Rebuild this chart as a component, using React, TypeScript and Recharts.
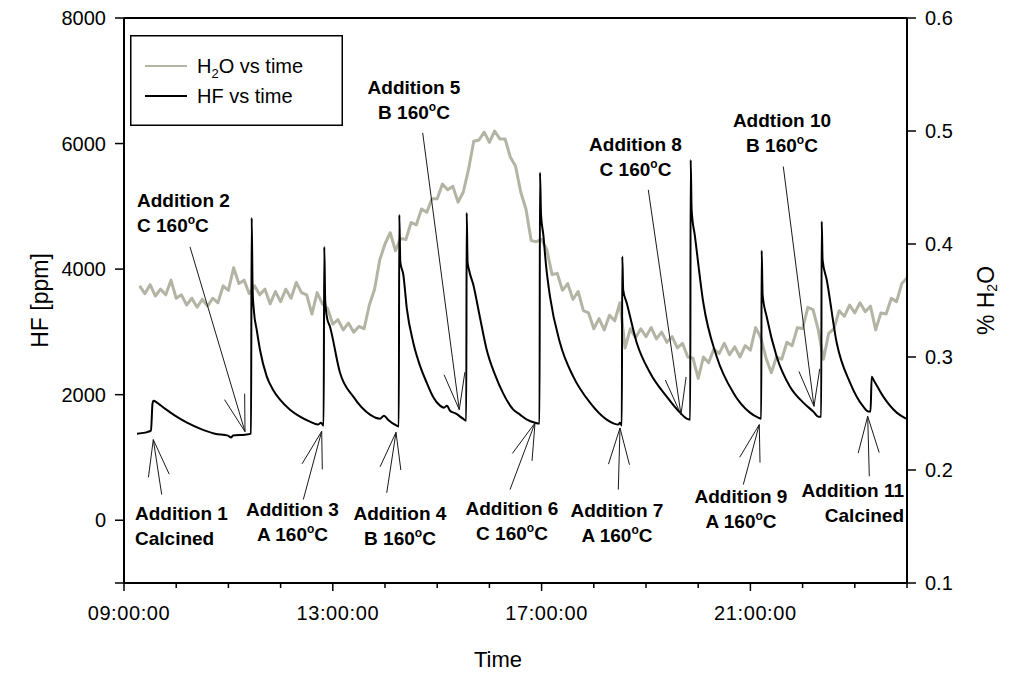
import React from "react";
import {
  LineChart,
  Line,
  XAxis,
  YAxis,
  ReferenceLine,
  ReferenceDot,
  Legend,
} from "recharts";

const FONT = "'Liberation Sans', Arial, Helvetica, sans-serif";
const H2O_COLOR = "#b4b4a5";

// HF reading [hour of day, ppm]
const hfTrace: [number, number][] = [
  [9.249, 1379], [9.402, 1395], [9.517, 1427], [9.546, 1857], [9.565, 1905],
  [9.632, 1873], [9.785, 1777], [9.977, 1666], [10.207, 1554], [10.456, 1459],
  [10.743, 1379], [10.992, 1348], [11.05, 1316], [11.088, 1348], [11.318, 1363],
  [11.433, 1379], [11.446, 4817], [11.464, 3671], [11.49, 3321], [11.542, 3035],
  [11.605, 2716], [11.734, 2291], [11.854, 2080], [11.989, 1920], [12.18, 1761],
  [12.372, 1650], [12.563, 1570], [12.716, 1523], [12.774, 1554], [12.824, 1507],
  [12.837, 4355], [12.854, 3512], [12.889, 3226], [12.946, 3082], [13.138, 2350],
  [13.393, 1968], [13.713, 1682], [13.904, 1618], [13.981, 1666], [14.057, 1602],
  [14.224, 1507], [14.264, 1491], [14.274, 4865], [14.293, 4117], [14.351, 3910],
  [14.421, 3353], [14.542, 2828], [14.67, 2462], [14.799, 2191], [14.92, 1968],
  [15.054, 1825], [15.13, 1793], [15.188, 1825], [15.245, 1745], [15.36, 1698],
  [15.494, 1618], [15.556, 1586], [15.565, 4897], [15.582, 4117], [15.609, 3989],
  [15.692, 3751], [15.82, 3226], [15.948, 2716], [16.107, 2318], [16.266, 2016],
  [16.458, 1761], [16.586, 1682], [16.72, 1602], [16.874, 1554], [16.96, 1539],
  [16.969, 5538], [16.989, 4865], [17.033, 4546], [17.084, 4069], [17.161, 3560],
  [17.352, 2828], [17.607, 2287], [17.927, 1873], [18.247, 1602], [18.387, 1539],
  [18.469, 1523], [18.502, 1554], [18.536, 1507], [18.546, 4201], [18.563, 3671],
  [18.63, 3464], [18.822, 2828], [19.077, 2350], [19.397, 1968], [19.651, 1714],
  [19.78, 1618], [19.847, 1602], [19.856, 5740], [19.874, 4944], [19.939, 4515],
  [20.098, 3464], [20.355, 2605], [20.672, 2032], [20.992, 1714], [21.151, 1634],
  [21.207, 1618], [21.216, 4297], [21.234, 3592], [21.312, 3241], [21.504, 2605],
  [21.759, 2127], [22.013, 1873], [22.205, 1730], [22.301, 1650], [22.356, 1650],
  [22.366, 4758], [22.383, 4149], [22.462, 3830], [22.653, 2828], [22.908, 2191],
  [23.163, 1809], [23.259, 1730], [23.301, 1730], [23.324, 2287], [23.368, 2223],
  [23.546, 1968], [23.803, 1714], [23.981, 1618],
];

// % H2O, one reading every 0.1 h from 09:18 to 24:00
const h2oFirstHour = 9.3;
const h2oPct = [
  0.363, 0.356, 0.364, 0.354, 0.36, 0.355, 0.368, 0.352, 0.355, 0.346,
  0.352, 0.344, 0.351, 0.345, 0.352, 0.348, 0.363, 0.359, 0.379, 0.365,
  0.368, 0.356, 0.363, 0.355, 0.36, 0.347, 0.358, 0.349, 0.36, 0.352,
  0.366, 0.357, 0.355, 0.338, 0.357, 0.347, 0.343, 0.329, 0.333, 0.324,
  0.33, 0.322, 0.327, 0.325, 0.346, 0.36, 0.386, 0.4, 0.41, 0.394,
  0.405, 0.404, 0.419, 0.417, 0.431, 0.428, 0.44, 0.44, 0.453, 0.448,
  0.451, 0.437, 0.446, 0.466, 0.491, 0.492, 0.499, 0.49, 0.5, 0.493,
  0.493, 0.477, 0.469, 0.446, 0.431, 0.403, 0.402, 0.404, 0.395, 0.373,
  0.374, 0.359, 0.365, 0.351, 0.358, 0.341, 0.339, 0.325, 0.334, 0.324,
  0.337, 0.332, 0.348, 0.308, 0.325, 0.317, 0.325, 0.318, 0.326, 0.316,
  0.322, 0.313, 0.318, 0.308, 0.312, 0.3, 0.299, 0.281, 0.3, 0.295,
  0.307, 0.303, 0.312, 0.302, 0.309, 0.3, 0.31, 0.306, 0.326, 0.317,
  0.299, 0.286, 0.3, 0.298, 0.313, 0.31, 0.326, 0.325, 0.344, 0.342,
  0.324, 0.298, 0.321, 0.325, 0.341, 0.336, 0.346, 0.339, 0.348, 0.34,
  0.345, 0.324, 0.339, 0.338, 0.352, 0.349, 0.365, 0.37,
];

const timeTicks = [9, 10, 11, 12, 13, 14, 15, 16, 17, 18, 19, 20, 21, 22, 23, 24];
const labelledHours = [9, 13, 17, 21];
const hfTicks = [-1000, 0, 2000, 4000, 6000, 8000];
const h2oTicks = [0.1, 0.2, 0.3, 0.4, 0.5, 0.6];

type Addition = {
  title: string;
  sample: string; // "" means calcined
  tail: [number, number];
  tip: [number, number];
  at: [number, number];
  anchor: "start" | "middle" | "end";
};

// arrow tail/tip and label anchor in (hour, ppm)
const additions: Addition[] = [
  { title: "Addition 1", sample: "", tail: [9.722, 409], tip: [9.561, 1284], at: [9.211, 122], anchor: "start" },
  { title: "Addition 2", sample: "C", tail: [10.264, 4355], tip: [11.318, 1411], at: [9.249, 5103], anchor: "start" },
  { title: "Addition 3", sample: "A", tail: [12.435, 329], tip: [12.787, 1416], at: [12.228, 186], anchor: "middle" },
  { title: "Addition 4", sample: "B", tail: [14.033, 436], tip: [14.211, 1400], at: [14.287, 122], anchor: "middle" },
  { title: "Addition 5", sample: "B", tail: [14.722, 6170], tip: [15.423, 1761], at: [14.556, 6902], anchor: "middle" },
  { title: "Addition 6", sample: "C", tail: [16.395, 488], tip: [16.874, 1550], at: [16.433, 202], anchor: "middle" },
  { title: "Addition 7", sample: "A", tail: [18.469, 488], tip: [18.502, 1470], at: [18.444, 170], anchor: "middle" },
  { title: "Addition 8", sample: "C", tail: [19.044, 5263], tip: [19.67, 1682], at: [18.799, 5995], anchor: "middle" },
  { title: "Addition 9", sample: "A", tail: [20.864, 568], tip: [21.17, 1523], at: [20.82, 393], anchor: "middle" },
  { title: "Addtion 10", sample: "B", tail: [21.63, 5634], tip: [22.218, 1814], at: [21.605, 6377], anchor: "middle" },
  { title: "Addition 11", sample: "", tail: [23.278, 700], tip: [23.247, 1655], at: [23.943, 488], anchor: "end" },
];

const hfData = hfTrace.map(([t, hf]) => ({ t, hf }));
const h2oData = h2oPct.map((h2o, i) => ({ t: +(h2oFirstHour + i * 0.1).toFixed(2), h2o }));

const pad = (n: number) => (n < 10 ? "0" + n : String(n));

const TimeTick = (p: any) => {
  const { x, y, payload } = p;
  const major = labelledHours.includes(payload.value);
  return (
    <g>
      <line x1={x} x2={x} y1={y} y2={y + (major ? 8 : 5)} stroke="#000" strokeWidth={1.5} />
      {major && (
        <text x={x + 5} y={y + 37} textAnchor="middle" fontFamily={FONT} fontSize={20} letterSpacing={0.6} fill="#000">
          {pad(payload.value)}:00:00
        </text>
      )}
    </g>
  );
};

const ArrowShape = (p: any) => {
  const { x1, y1, x2, y2 } = p;
  const back = Math.atan2(y1 - y2, x1 - x2);
  const len = 38;
  const spread = 0.28;
  const hx = (s: number) => x2 + len * Math.cos(back + s);
  const hy = (s: number) => y2 + len * Math.sin(back + s);
  return (
    <g stroke="#1a1a1a" strokeWidth={1} fill="none">
      <line x1={x1} y1={y1} x2={x2} y2={y2} />
      <line x1={x2} y1={y2} x2={hx(spread)} y2={hy(spread)} />
      <line x1={x2} y1={y2} x2={hx(-spread)} y2={hy(-spread)} />
    </g>
  );
};

const additionLabel = (a: Addition) => (p: any) => {
  const { cx, cy } = p;
  return (
    <text textAnchor={a.anchor} fontFamily={FONT} fontWeight="bold" fontSize={19} fill="#000">
      <tspan x={cx} y={cy + 7}>{a.title}</tspan>
      {a.sample === "" ? (
        <tspan x={cx} y={cy + 32}>Calcined</tspan>
      ) : (
        <>
          <tspan x={cx} y={cy + 32}>{a.sample} 160</tspan>
          <tspan dy={-8} fontSize={12}>o</tspan>
          <tspan dy={8}>C</tspan>
        </>
      )}
    </text>
  );
};

const LegendBox = () => (
  <svg width={213} height={91} style={{ display: "block" }}>
    <rect x={0.75} y={0.75} width={211.5} height={89.5} fill="#fff" stroke="#000" strokeWidth={1.5} />
    <line x1={15} x2={57} y1={31} y2={31} stroke={H2O_COLOR} strokeWidth={2} />
    <line x1={15} x2={57} y1={61} y2={61} stroke="#000" strokeWidth={2} />
    <text x={67} y={38} fontFamily={FONT} fontSize={20} fill="#000">
      H<tspan dy={5} fontSize={13}>2</tspan>
      <tspan dy={-5}>O vs time</tspan>
    </text>
    <text x={67} y={68} fontFamily={FONT} fontSize={20} fill="#000">
      HF vs time
    </text>
  </svg>
);

const hfTitle = (p: any) => {
  const vb = p.viewBox || { x: 0, y: 18, width: 124, height: 565 };
  const cx = vb.x + 40;
  const cy = vb.y + vb.height / 2;
  return (
    <text x={cx} y={cy} transform={`rotate(-90 ${cx} ${cy})`} textAnchor="middle" dominantBaseline="central" fontFamily={FONT} fontSize={23} fill="#000">
      HF [ppm]
    </text>
  );
};

const h2oTitle = (p: any) => {
  const vb = p.viewBox || { x: 907, y: 18, width: 106, height: 565 };
  const cx = vb.x + 79;
  const cy = vb.y + vb.height / 2;
  return (
    <text x={cx} y={cy} transform={`rotate(-90 ${cx} ${cy})`} textAnchor="middle" dominantBaseline="central" fontFamily={FONT} fontSize={23} fill="#000">
      % H<tspan dy={6} fontSize={14}>2</tspan>
      <tspan dy={-6}>O</tspan>
    </text>
  );
};

const timeTitle = (p: any) => {
  const vb = p.viewBox || { x: 124, y: 583, width: 783, height: 90 };
  return (
    <text x={vb.x + 374} y={vb.y + 84} textAnchor="middle" fontFamily={FONT} fontSize={22} fill="#000">
      Time
    </text>
  );
};

export default function App() {
  return (
    <div style={{ position: "absolute", left: 0, top: 0, width: 1013, height: 673, background: "#fff" }}>
      <LineChart width={1013} height={673} margin={{ top: 18, right: 0, bottom: 0, left: 0 }}>
        <XAxis
          dataKey="t"
          type="number"
          domain={[9, 24]}
          ticks={timeTicks}
          interval={0}
          allowDataOverflow
          height={90}
          tickSize={0}
          tickMargin={0}
          tickLine={false}
          axisLine={{ stroke: "#000", strokeWidth: 2 }}
          tick={(p: any) => <TimeTick {...p} />}
          label={timeTitle}
        />
        <YAxis
          yAxisId="left"
          type="number"
          domain={[-1000, 8000]}
          ticks={hfTicks}
          interval={0}
          allowDataOverflow
          width={124}
          tickSize={9}
          tickMargin={9}
          axisLine={{ stroke: "#000", strokeWidth: 2 }}
          tickLine={{ stroke: "#000", strokeWidth: 1.5 }}
          tick={{ fontSize: 20, fill: "#000", fontFamily: FONT }}
          tickFormatter={(v: number) => (v === -1000 ? "" : String(v))}
          label={hfTitle}
        />
        <YAxis
          yAxisId="right"
          orientation="right"
          type="number"
          domain={[0.1, 0.6]}
          ticks={h2oTicks}
          interval={0}
          allowDataOverflow
          width={106}
          tickSize={9}
          tickMargin={9}
          axisLine={{ stroke: "#000", strokeWidth: 2 }}
          tickLine={{ stroke: "#000", strokeWidth: 1.5 }}
          tick={{ fontSize: 20, fill: "#000", fontFamily: FONT }}
          tickFormatter={(v: number) => v.toFixed(1)}
          label={h2oTitle}
        />
        <ReferenceLine yAxisId="left" y={8000} stroke="#000" strokeWidth={2} />
        <Line
          yAxisId="right"
          data={h2oData}
          dataKey="h2o"
          type="linear"
          stroke={H2O_COLOR}
          strokeWidth={3}
          strokeLinejoin="round"
          dot={false}
          activeDot={false}
          isAnimationActive={false}
        />
        <Line
          yAxisId="left"
          data={hfData}
          dataKey="hf"
          type="monotoneX"
          stroke="#000"
          strokeWidth={2}
          dot={false}
          activeDot={false}
          isAnimationActive={false}
        />
        {additions.map((a) => (
          <ReferenceLine
            key={"arrow-" + a.title}
            yAxisId="left"
            segment={[
              { x: a.tail[0], y: a.tail[1] },
              { x: a.tip[0], y: a.tip[1] },
            ]}
            shape={ArrowShape}
          />
        ))}
        {additions.map((a) => (
          <ReferenceDot
            key={"label-" + a.title}
            yAxisId="left"
            x={a.at[0]}
            y={a.at[1]}
            r={1}
            shape={additionLabel(a)}
          />
        ))}
        <Legend
          layout="horizontal"
          verticalAlign="middle"
          align="center"
          content={() => <LegendBox />}
          wrapperStyle={{ left: 130, top: 35, width: 213, height: 91 }}
        />
      </LineChart>
    </div>
  );
}
